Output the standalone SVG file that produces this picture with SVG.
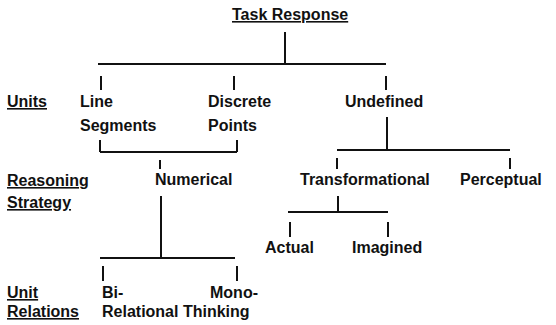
<svg xmlns="http://www.w3.org/2000/svg" width="556" height="325" viewBox="0 0 556 325">
<style>
text{font-family:"Liberation Sans",Arial,Helvetica,sans-serif;font-size:16px;font-weight:bold;fill:#111}
.u{text-decoration:underline}
.c line{stroke:#111;stroke-width:2;fill:none}
</style>
<rect width="556" height="325" fill="#fff"/>
<g id="labels">
<text class="u" x="7" y="107">Units</text>
<text class="u" x="7" y="186">Reasoning</text>
<text class="u" x="7" y="208">Strategy</text>
<text class="u" x="7" y="298">Unit</text>
<text class="u" x="7" y="317">Relations</text>
</g>
<g id="task"><text class="u" x="232" y="20">Task Response</text></g>
<g id="line-segments"><text x="80" y="107">Line</text><text x="80" y="131">Segments</text></g>
<g id="discrete-points"><text x="208" y="107">Discrete</text><text x="208" y="131">Points</text></g>
<g id="undefined"><text x="345" y="107">Undefined</text></g>
<g id="numerical"><text x="155" y="185">Numerical</text></g>
<g id="transformational"><text x="300" y="185">Transformational</text></g>
<g id="perceptual"><text x="460" y="185">Perceptual</text></g>
<g id="actual"><text x="265" y="253">Actual</text></g>
<g id="imagined"><text x="352" y="253">Imagined</text></g>
<g id="bi-relational"><text x="102" y="298">Bi-</text></g>
<g id="mono-thinking"><text x="210" y="298">Mono-</text></g>
<g id="relational-thinking"><text x="102" y="317">Relational Thinking</text></g>
<g id="connectors" class="c">
<line x1="285" y1="32" x2="285" y2="64"/>
<line x1="98" y1="64" x2="386" y2="64"/>
<line x1="101" y1="76" x2="101" y2="90"/>
<line x1="234" y1="76" x2="234" y2="90"/>
<line x1="386" y1="76" x2="386" y2="90"/>
<line x1="387" y1="117" x2="387" y2="150"/>
<line x1="337" y1="150" x2="510" y2="150"/>
<line x1="337" y1="158" x2="337" y2="169"/>
<line x1="510" y1="158" x2="510" y2="169"/>
<line x1="100" y1="140" x2="100" y2="152"/>
<line x1="100" y1="152" x2="237" y2="152"/>
<line x1="237" y1="140" x2="237" y2="152"/>
<line x1="160" y1="160" x2="160" y2="169"/>
<line x1="161" y1="196" x2="161" y2="258"/>
<line x1="100" y1="258" x2="235" y2="258"/>
<line x1="103" y1="266" x2="103" y2="281"/>
<line x1="237" y1="266" x2="237" y2="281"/>
<line x1="338" y1="196" x2="338" y2="212"/>
<line x1="288" y1="212" x2="388" y2="212"/>
<line x1="290" y1="222" x2="290" y2="237"/>
<line x1="388" y1="222" x2="388" y2="237"/>
</g>
</svg>
